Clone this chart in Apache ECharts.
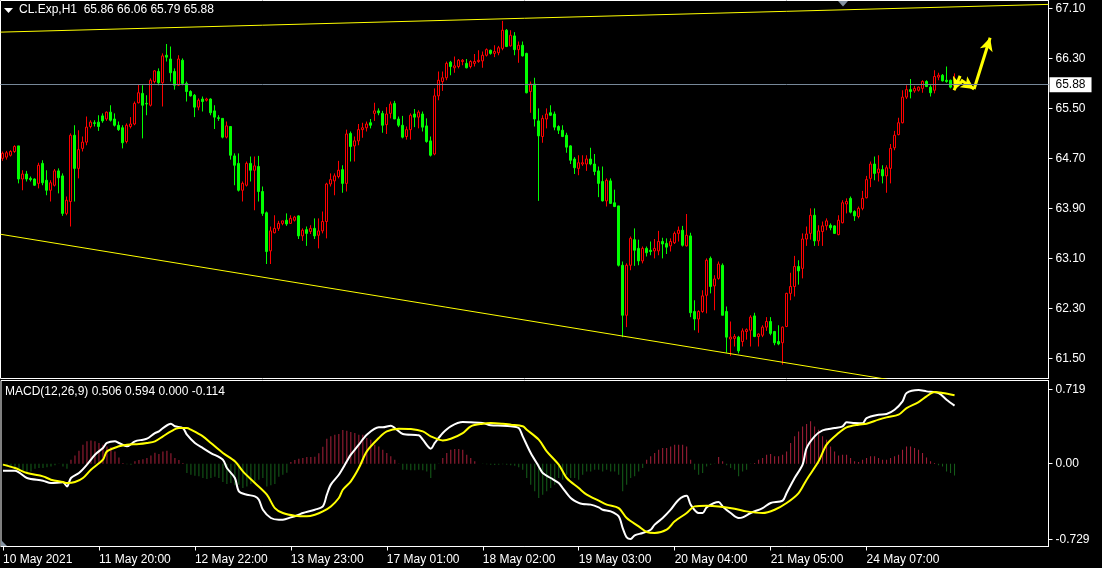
<!DOCTYPE html>
<html><head><meta charset="utf-8">
<style>html,body{margin:0;padding:0;background:#000;}#c{width:1102px;height:568px;}</style>
<script src="https://cdn.jsdelivr.net/npm/echarts@6/dist/echarts.min.js"></script>
</head><body><div id="c"></div>
<script>
const symbolName = 'CL.Exp,H1';
const headerOHLC = [65.86, 66.06, 65.79, 65.88];
const macdHeader = ['0.506', '0.594', '0.000', '-0.114'];
const xTickLabels = ['10 May 2021','11 May 20:00','12 May 22:00','13 May 23:00','17 May 01:00','18 May 02:00','19 May 03:00','20 May 04:00','21 May 05:00','24 May 07:00'];
const barsPerLabel = 24;
const totalSlots = 262;
const priceTicks = [61.50, 62.30, 63.10, 63.90, 64.70, 65.50, 66.30, 67.10];
const macdTicks = [0.719, 0, -0.729];
const macdTickLabels = ['0.719', '0.00', '-0.729'];
const currentPrice = 65.88;

const opens = [
64.70,64.72,64.75,64.81,64.90,64.37,64.45,64.38,64.37,64.30,
64.62,64.35,64.19,64.27,64.50,64.42,63.82,64.01,65.07,64.54,
64.86,64.96,65.21,65.27,65.28,65.38,65.33,65.44,65.33,65.23,
65.19,64.97,65.21,65.25,65.59,65.74,65.58,65.55,65.93,66.09,
65.91,66.35,66.29,66.09,65.87,66.27,65.90,65.77,65.71,65.52,
65.65,65.63,65.65,65.46,65.35,65.34,65.04,65.21,64.74,64.62,
64.19,64.27,64.62,64.51,64.57,64.17,63.83,63.22,63.51,63.58,
63.66,63.71,63.66,63.71,63.78,63.46,63.56,63.53,63.58,63.47,
63.54,63.69,64.29,64.34,64.41,64.52,64.30,65.10,64.90,64.98,
65.16,65.19,65.27,65.42,65.46,65.42,65.24,65.42,65.58,65.33,
65.23,65.05,65.16,65.41,65.36,65.41,65.22,64.98,64.77,65.70,
65.93,65.99,66.24,66.15,66.17,66.25,66.22,66.17,66.22,66.25,
66.26,66.35,66.43,66.38,66.39,66.46,66.75,66.50,66.66,66.44,
66.51,66.38,65.77,65.89,65.30,65.05,65.33,65.43,65.41,65.21,
65.15,65.07,64.90,64.69,64.54,64.61,64.61,64.69,64.61,64.50,
64.33,64.02,64.34,63.99,63.94,62.99,62.19,62.99,63.40,63.26,
63.06,63.26,63.23,63.22,63.22,63.37,63.34,63.30,63.35,63.50,
63.55,63.30,63.46,62.25,62.13,62.25,62.51,63.10,62.66,62.78,
62.99,62.25,61.81,61.82,61.84,61.77,61.93,61.95,62.18,61.85,
61.87,62.00,62.09,61.93,61.77,61.75,62.01,62.54,62.65,62.97,
62.94,63.41,63.50,63.79,63.38,63.53,63.62,63.63,63.62,63.48,
63.67,63.97,64.06,63.85,63.77,63.90,64.07,64.38,64.61,64.47,
64.52,64.42,64.54,64.87,65.08,65.27,65.68,65.80,65.78,65.79,
65.82,65.93,65.84,65.79,66.00,66.03,65.95,65.95,65.86];
const highs = [
64.81,64.82,64.83,64.91,64.90,64.51,64.50,64.41,64.38,64.63,
64.67,64.51,64.35,64.53,64.54,64.46,64.09,65.10,65.23,65.15,
65.05,65.37,65.31,65.31,65.39,65.42,65.45,65.55,65.42,65.29,
65.23,65.26,65.36,65.61,65.89,65.87,65.71,65.98,66.11,66.14,
66.38,66.53,66.49,66.14,66.35,66.30,65.93,65.79,65.73,65.66,
65.69,65.67,65.66,65.55,65.39,65.34,65.29,65.21,64.78,64.78,
64.33,64.65,64.73,64.73,64.74,64.25,63.85,63.61,63.79,63.70,
63.70,63.82,63.79,63.78,63.79,63.58,63.61,63.63,63.74,63.74,
63.85,64.31,64.46,64.46,64.66,64.59,65.16,65.13,65.05,65.25,
65.27,65.29,65.33,65.59,65.50,65.46,65.52,65.61,65.62,65.37,
65.38,65.21,65.42,65.49,65.47,65.45,65.34,65.05,65.82,66.09,
66.09,66.25,66.26,66.33,66.29,66.29,66.29,66.27,66.37,66.43,
66.41,66.46,66.44,66.51,66.50,66.90,66.77,66.75,66.72,66.57,
66.57,66.39,65.93,65.99,65.50,65.39,65.50,65.55,65.45,65.23,
65.23,65.11,64.91,64.72,64.75,64.75,64.75,64.87,64.77,64.57,
64.57,64.38,64.38,64.20,63.94,63.05,63.02,63.45,63.58,63.40,
63.29,63.29,63.37,63.41,63.54,63.43,63.42,63.42,63.53,63.61,
63.62,63.81,63.51,62.43,62.27,62.59,63.10,63.13,62.83,63.05,
63.02,62.33,62.09,61.89,61.86,61.98,61.98,62.19,62.23,61.90,
62.03,62.16,62.16,61.94,62.03,62.01,62.55,62.87,63.14,63.07,
63.50,63.61,63.90,63.90,63.63,63.69,63.74,63.66,63.63,63.79,
64.03,64.06,64.09,63.87,63.93,64.18,64.42,64.65,64.73,64.75,
64.59,64.59,64.93,65.14,65.35,65.79,65.87,65.97,65.86,65.85,
65.95,65.95,65.87,66.11,66.07,66.05,66.17,65.96,66.06];
const lows = [
64.66,64.68,64.73,64.79,64.30,64.19,64.33,64.33,64.26,64.22,
64.27,64.11,64.01,64.25,64.14,63.78,63.79,63.61,64.01,64.38,
64.81,64.91,65.18,65.21,65.14,65.27,65.30,65.29,65.21,65.14,
64.86,64.94,65.18,65.23,65.58,65.02,65.39,65.53,65.90,65.87,
65.53,66.25,65.93,65.80,65.86,65.87,65.61,65.69,65.36,65.47,
65.45,65.61,65.39,65.17,65.30,65.02,65.02,64.68,64.27,64.17,
64.01,64.25,64.33,63.87,64.01,63.78,63.01,63.01,63.50,63.54,
63.63,63.62,63.65,63.69,63.41,63.38,63.30,63.49,63.41,63.26,
63.50,63.42,64.25,64.11,64.38,64.15,64.17,64.65,64.65,64.91,
65.03,65.13,65.18,65.30,65.39,65.11,65.09,65.34,65.33,65.20,
65.02,65.00,65.00,65.20,65.18,65.13,64.95,64.73,64.75,65.63,
65.78,65.95,66.03,66.07,66.14,66.19,66.14,66.14,66.17,66.23,
66.15,66.33,66.36,66.32,66.35,66.43,66.48,66.49,66.35,66.23,
66.33,65.74,65.43,65.21,64.02,64.95,65.18,65.38,65.15,65.09,
65.04,64.79,64.61,64.45,64.43,64.58,64.50,64.59,64.43,64.08,
64.01,63.93,63.97,63.92,62.97,61.84,62.00,62.91,62.98,62.99,
63.02,63.13,63.15,63.10,63.15,63.10,63.17,63.21,63.33,63.37,
63.29,63.29,62.16,61.95,61.91,62.23,62.22,62.54,62.27,62.76,
62.19,61.59,61.54,61.69,61.58,61.69,61.80,61.69,61.84,61.69,
61.84,61.94,61.87,61.71,61.71,61.40,62.00,62.43,62.49,62.68,
62.78,63.30,63.40,63.30,63.30,63.30,63.55,63.55,63.49,63.47,
63.66,63.82,63.82,63.70,63.74,63.87,64.06,64.24,64.35,64.33,
64.30,64.15,64.30,64.83,65.07,65.26,65.65,65.66,65.75,65.77,
65.75,65.84,65.69,65.74,65.95,65.93,65.91,65.82,65.79];
const closes = [
64.78,64.79,64.81,64.89,64.37,64.45,64.37,64.36,64.27,64.59,
64.31,64.19,64.31,64.50,64.39,63.82,64.03,65.07,64.54,64.84,
64.96,65.20,65.28,65.26,65.21,65.30,65.44,65.31,65.23,65.16,
64.95,65.23,65.25,65.58,65.75,65.55,65.57,65.95,66.10,65.91,
66.34,66.32,66.07,65.87,66.29,65.90,65.77,65.70,65.52,65.63,
65.61,65.65,65.43,65.36,65.34,65.04,65.22,64.75,64.59,64.19,
64.30,64.62,64.51,64.58,64.17,63.82,63.21,63.54,63.58,63.66,
63.70,63.65,63.74,63.76,63.46,63.55,63.50,63.58,63.46,63.54,
63.69,64.29,64.36,64.42,64.51,64.30,65.09,64.89,64.98,65.16,
65.19,65.25,65.23,65.46,65.43,65.23,65.41,65.57,65.33,65.23,
65.04,65.16,65.39,65.36,65.44,65.20,64.97,64.75,65.70,65.95,
65.99,66.22,66.17,66.18,66.27,66.27,66.15,66.25,66.25,66.27,
66.35,66.44,66.38,66.41,66.47,66.75,66.49,66.67,66.44,66.51,
66.34,65.75,65.89,65.33,65.06,65.34,65.41,65.39,65.20,65.15,
65.05,64.88,64.67,64.55,64.63,64.63,64.69,64.61,64.49,64.30,
64.02,64.35,63.98,63.93,62.99,62.19,62.99,63.42,63.23,63.06,
63.26,63.19,63.21,63.26,63.37,63.33,63.28,63.37,63.50,63.55,
63.31,63.47,62.23,62.13,62.25,62.50,63.07,62.65,62.77,63.01,
62.19,61.84,61.84,61.85,61.62,61.94,61.96,62.16,61.85,61.89,
62.00,62.09,61.90,61.75,61.73,62.00,62.54,62.65,62.97,62.90,
63.41,63.49,63.79,63.38,63.54,63.62,63.70,63.59,63.50,63.71,
63.99,64.01,63.84,63.78,63.90,64.06,64.36,64.61,64.46,64.53,
64.42,64.55,64.86,65.07,65.27,65.68,65.80,65.77,65.82,65.84,
65.93,65.85,65.75,66.01,66.03,65.94,65.93,65.84,65.88];

const macdHist = [
-0.016,-0.026,-0.035,-0.048,-0.058,-0.068,-0.080,-0.074,-0.048,-0.042,
-0.042,-0.035,-0.026,-0.016,-0.003,-0.026,-0.048,0.039,0.080,0.125,
0.183,0.216,0.225,0.216,0.199,0.183,0.167,0.161,0.119,0.061,
0.006,-0.006,-0.010,0.023,0.035,0.042,0.055,0.080,0.106,0.093,
0.119,0.125,0.100,0.055,0.035,0.006,-0.090,-0.106,-0.116,-0.122,
-0.138,-0.148,-0.138,-0.125,-0.138,-0.177,-0.196,-0.187,-0.209,-0.203,
-0.235,-0.219,-0.196,-0.170,-0.154,-0.138,-0.219,-0.209,-0.196,-0.125,
-0.106,-0.087,0.016,0.035,0.048,0.055,0.064,0.064,0.068,0.100,
0.164,0.241,0.264,0.280,0.286,0.325,0.318,0.306,0.296,0.280,
0.280,0.248,0.232,0.183,0.167,0.135,0.103,0.071,0.039,0.003,
-0.058,-0.058,-0.064,-0.064,-0.058,-0.064,-0.074,-0.138,-0.058,-0.003,
0.055,0.103,0.135,0.142,0.142,0.135,0.087,0.055,0.023,0.000,
-0.003,-0.006,-0.010,-0.013,-0.010,-0.006,-0.010,-0.016,-0.019,-0.035,
-0.058,-0.138,-0.203,-0.267,-0.331,-0.299,-0.267,-0.235,-0.203,-0.138,
-0.154,-0.106,-0.138,-0.138,-0.154,-0.106,-0.074,-0.074,-0.058,-0.058,
-0.074,-0.058,-0.074,-0.074,-0.106,-0.267,-0.203,-0.138,-0.122,-0.074,
-0.042,0.039,0.071,0.103,0.135,0.151,0.151,0.167,0.183,0.183,
0.183,0.167,0.039,-0.058,-0.106,-0.090,-0.026,-0.010,-0.003,0.064,
0.023,-0.016,-0.042,-0.058,-0.122,-0.074,-0.058,-0.003,0.006,0.039,
0.055,0.087,0.093,0.071,0.071,0.087,0.119,0.199,0.264,0.312,
0.360,0.383,0.409,0.360,0.328,0.264,0.232,0.167,0.119,0.080,
0.087,0.087,0.055,0.023,0.016,0.039,0.055,0.071,0.071,0.055,
0.039,0.039,0.055,0.071,0.087,0.135,0.167,0.167,0.151,0.135,
0.103,0.061,0.023,0.006,-0.016,-0.026,-0.074,-0.090,-0.113];

const macdMain = [[0,-0.067],[3,-0.067],[6,-0.138],[10,-0.164],[12,-0.186],[15,-0.180],[16,-0.219],[17,-0.138],[19,-0.090],[21,-0.009],[23,0.087],[25,0.151],[26,0.200],[28,0.216],[29,0.200],[31,0.168],[33,0.216],[35,0.232],[36,0.241],[38,0.296],[39,0.312],[40,0.344],[42,0.386],[43,0.361],[45,0.344],[46,0.280],[48,0.200],[50,0.151],[52,0.103],[55,0.039],[56,-0.042],[58,-0.138],[59,-0.267],[61,-0.299],[63,-0.315],[64,-0.347],[65,-0.444],[67,-0.524],[69,-0.540],[70,-0.540],[72,-0.518],[74,-0.492],[75,-0.476],[78,-0.444],[80,-0.412],[81,-0.299],[82,-0.202],[84,-0.106],[86,0.023],[87,0.087],[88,0.135],[89,0.184],[91,0.280],[94,0.351],[95,0.351],[97,0.367],[98,0.344],[100,0.287],[104,0.274],[105,0.232],[107,0.145],[108,0.200],[110,0.296],[112,0.361],[115,0.402],[117,0.399],[120,0.393],[122,0.370],[125,0.367],[127,0.361],[129,0.344],[130,0.264],[132,0.103],[134,-0.026],[135,-0.090],[137,-0.138],[139,-0.186],[140,-0.235],[142,-0.331],[144,-0.379],[145,-0.389],[147,-0.395],[149,-0.421],[150,-0.444],[152,-0.460],[154,-0.508],[155,-0.621],[156,-0.711],[157,-0.727],[158,-0.691],[160,-0.669],[162,-0.637],[163,-0.588],[165,-0.524],[167,-0.444],[169,-0.347],[171,-0.309],[172,-0.395],[174,-0.476],[175,-0.476],[176,-0.421],[179,-0.370],[180,-0.412],[182,-0.476],[184,-0.524],[185,-0.518],[187,-0.476],[190,-0.428],[192,-0.379],[195,-0.357],[196,-0.283],[198,-0.138],[200,-0.009],[201,0.151],[203,0.264],[205,0.322],[208,0.344],[210,0.361],[211,0.399],[213,0.393],[215,0.390],[216,0.441],[219,0.473],[221,0.480],[223,0.521],[225,0.602],[226,0.682],[229,0.711],[231,0.698],[234,0.682],[236,0.618],[238,0.560]];
const macdSignal = [[0,-0.009],[3,-0.042],[6,-0.090],[10,-0.122],[12,-0.154],[15,-0.177],[16,-0.186],[18,-0.177],[20,-0.138],[22,-0.058],[25,0.039],[26,0.119],[29,0.168],[31,0.184],[34,0.190],[36,0.200],[38,0.216],[40,0.264],[42,0.312],[44,0.344],[46,0.344],[47,0.328],[50,0.264],[52,0.200],[55,0.103],[58,0.023],[60,-0.074],[63,-0.186],[66,-0.299],[68,-0.428],[70,-0.476],[73,-0.502],[76,-0.508],[78,-0.492],[80,-0.460],[82,-0.412],[84,-0.331],[85,-0.251],[87,-0.170],[89,-0.042],[91,0.119],[94,0.248],[96,0.312],[99,0.338],[102,0.335],[105,0.312],[107,0.264],[110,0.225],[112,0.241],[115,0.296],[117,0.361],[120,0.386],[122,0.393],[125,0.386],[127,0.377],[130,0.361],[131,0.328],[134,0.232],[136,0.119],[139,-0.009],[141,-0.138],[144,-0.235],[146,-0.299],[149,-0.357],[151,-0.395],[154,-0.428],[156,-0.524],[159,-0.605],[161,-0.659],[163,-0.669],[166,-0.637],[168,-0.556],[171,-0.476],[173,-0.412],[176,-0.405],[179,-0.412],[183,-0.434],[186,-0.460],[190,-0.476],[193,-0.444],[196,-0.379],[199,-0.283],[201,-0.154],[204,0.023],[206,0.184],[209,0.296],[211,0.351],[214,0.377],[216,0.386],[219,0.425],[221,0.447],[224,0.473],[226,0.537],[229,0.595],[231,0.650],[233,0.692],[235,0.682],[238,0.660]];

const upperTrend = [[-0.5, 66.72], [261.5, 67.164]];
const lowerTrend = [[-0.5, 63.486], [261.5, 60.742]];
const arrowPaths = [
  [[239.4, 66.02], [237.9, 65.79]],
  [[239.6, 65.955], [242.9, 65.81]],
  [[242.9, 65.81], [246.9, 66.63]]
];

const FONT = '"Liberation Sans", Arial, sans-serif';
const FG = '#ffffff';
const cats = Array.from({length: totalSlots}, (_, i) => 'b' + i);
const showTick = (idx) => idx % barsPerLabel === 0 && (idx / barsPerLabel) < xTickLabels.length;
const candleData = opens.map((o, i) => [o, closes[i], lows[i], highs[i]]);

const chart = echarts.init(document.getElementById('c'), null, {renderer: 'canvas'});
chart.setOption({
  backgroundColor: '#000',
  animation: false,
  textStyle: {fontFamily: FONT},
  title: [
    {text: symbolName + '  ' + headerOHLC.map(v => v.toFixed(2)).join(' '), left: 19, top: 4, padding: 0,
     textStyle: {color: FG, fontSize: 12, fontWeight: 'normal', fontFamily: FONT}},
    {text: 'MACD(12,26,9) ' + macdHeader.join(' '), left: 5, top: 386, padding: 0,
     textStyle: {color: FG, fontSize: 12, fontWeight: 'normal', fontFamily: FONT}}
  ],
  grid: [
    {left: 0.5, right: 53.5, top: 0.5, height: 378, show: true, borderColor: FG, borderWidth: 1, backgroundColor: 'transparent'},
    {left: 0.5, right: 53.5, top: 380.5, height: 166, show: true, borderColor: FG, borderWidth: 1, backgroundColor: 'transparent'}
  ],
  xAxis: [
    {type: 'category', gridIndex: 0, data: cats, boundaryGap: true, axisLine: {show: false, onZero: false}, axisTick: {show: false}, axisLabel: {show: false}, splitLine: {show: false}},
    {type: 'category', gridIndex: 1, data: cats, boundaryGap: true,
     axisLine: {show: true, onZero: false, lineStyle: {color: FG}},
     axisTick: {show: true, alignWithLabel: true, interval: (i) => showTick(i), length: 4, lineStyle: {color: FG}},
     axisLabel: {interval: (i) => showTick(i), formatter: (v, i) => showTick(i) ? xTickLabels[i / barsPerLabel] : '', align: 'left', color: FG, fontSize: 12, margin: 7, fontFamily: FONT},
     splitLine: {show: false}},
    {type: 'value', gridIndex: 0, position: 'top', min: -0.5, max: totalSlots - 0.5, show: false, axisLine: {onZero: false}},
    {type: 'value', gridIndex: 1, position: 'top', min: -0.5, max: totalSlots - 0.5, show: false, axisLine: {onZero: false}}
  ],
  yAxis: [
    {type: 'value', gridIndex: 0, position: 'right', min: 61.178, max: 67.226,
     splitLine: {show: false}, axisLine: {show: true, onZero: false, lineStyle: {color: FG}},
     axisTick: {show: true, length: 4, customValues: priceTicks, lineStyle: {color: FG}},
     axisLabel: {customValues: priceTicks, formatter: (v) => Number(v).toFixed(2), color: FG, fontSize: 12, margin: 7, fontFamily: FONT}},
    {type: 'value', gridIndex: 1, position: 'right', min: -0.799, max: 0.803,
     splitLine: {show: false}, axisLine: {show: true, onZero: false, lineStyle: {color: FG}},
     axisTick: {show: true, length: 4, customValues: macdTicks, lineStyle: {color: FG}},
     axisLabel: {customValues: macdTicks, formatter: (v) => {
        let best = 0, d = Infinity;
        macdTicks.forEach((t, k) => { if (Math.abs(t - v) < d) { d = Math.abs(t - v); best = k; } });
        return macdTickLabels[best];
     }, color: FG, fontSize: 12, margin: 7, fontFamily: FONT}}
  ],
  series: [
    {type: 'line', xAxisIndex: 2, yAxisIndex: 0, data: upperTrend, symbol: 'none', clip: true, silent: true,
     lineStyle: {color: '#ffff00', width: 1},
     markLine: {silent: true, symbol: ['none', 'arrow'], symbolSize: [10, 13], animation: false,
       lineStyle: {color: '#ffff00', width: 3, type: 'solid'}, label: {show: false},
       data: arrowPaths.map(a => [{coord: a[0]}, {coord: a[1]}])}},
    {type: 'line', xAxisIndex: 2, yAxisIndex: 0, data: lowerTrend, symbol: 'none', clip: true, silent: true,
     lineStyle: {color: '#ffff00', width: 1}},
    {type: 'candlestick', xAxisIndex: 0, yAxisIndex: 0, data: candleData, barWidth: 2, silent: true,
     itemStyle: {color: '#000000', color0: '#00ff00', borderColor: '#ff0000', borderColor0: '#00ff00', borderWidth: 1},
     markLine: {silent: true, symbol: ['none', 'none'], animation: false,
       lineStyle: {color: '#778899', width: 1, type: 'solid'},
       label: {show: true, position: 'end', formatter: currentPrice.toFixed(2), color: '#000', backgroundColor: '#fff',
               padding: [2, 6, 1, 6], fontSize: 12, distance: 1, fontFamily: FONT},
       data: [{yAxis: currentPrice}]}},
    {type: 'bar', xAxisIndex: 1, yAxisIndex: 1, barWidth: 1, silent: true,
     data: macdHist.map(v => ({value: v, itemStyle: {color: v >= 0 ? '#a8203a' : '#15611a'}}))},
    {type: 'line', xAxisIndex: 3, yAxisIndex: 1, data: macdMain, symbol: 'none', smooth: 0.3, silent: true,
     lineStyle: {color: '#ffffff', width: 2}},
    {type: 'line', xAxisIndex: 3, yAxisIndex: 1, data: macdSignal, symbol: 'none', smooth: 0.3, silent: true,
     lineStyle: {color: '#ffff00', width: 2}}
  ],
  graphic: [
    {type: 'polygon', shape: {points: [[4, 8], [13, 8], [8.5, 13]]}, style: {fill: FG}, silent: true},
    {type: 'polygon', shape: {points: [[838, 1], [848, 1], [843, 6.5]]}, style: {fill: '#8391a0'}, silent: true},
    {type: 'polygon', shape: {points: [[1, 540], [1, 546], [7, 546]]}, style: {fill: '#8391a0'}, silent: true}
  ]
});
</script>
</body></html>
